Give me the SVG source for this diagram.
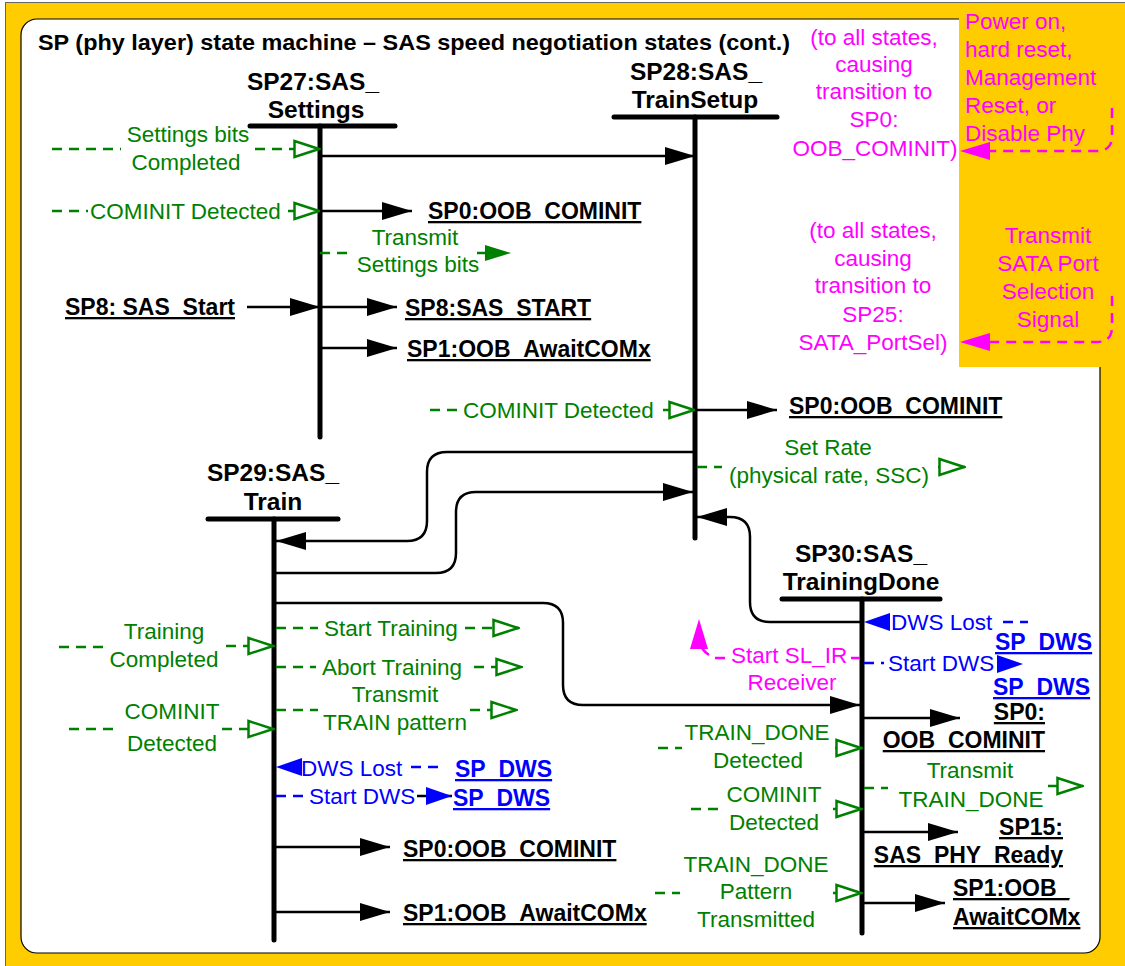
<svg xmlns="http://www.w3.org/2000/svg" width="1125" height="966" viewBox="0 0 1125 966">
<style>
text{font-family:"Liberation Sans",Arial,sans-serif}
.t{font-size:22px;font-weight:bold;fill:#000}
.n{font-size:24.5px;font-weight:bold;fill:#000;text-anchor:middle}
.l{font-size:23px;font-weight:bold;fill:#000;text-decoration:underline double;text-underline-offset:3px}
.lb{font-size:23px;font-weight:bold;fill:#0000FF;text-decoration:underline double;text-underline-offset:3px}
.g{font-size:22.5px;fill:#008000}
.bt{font-size:22.5px;fill:#0000FF}
.mt{font-size:22.5px;fill:#FF00FF}
.c{text-anchor:middle}
.bar{stroke:#000;stroke-width:5;stroke-linecap:round;fill:none}
.k{stroke:#000;stroke-width:2.5;fill:none}
.gd{stroke:#008000;stroke-width:2.5;stroke-dasharray:10 7;fill:none}
.bd{stroke:#0000FF;stroke-width:2.5;stroke-dasharray:10 7;fill:none}
.md{stroke:#FF00FF;stroke-width:2.5;stroke-dasharray:10 7;fill:none}
</style>
<defs>
<marker id="ak" markerUnits="userSpaceOnUse" markerWidth="30" markerHeight="20" viewBox="0 0 30 20" refX="30" refY="10" orient="auto"><polygon points="0,1 30,10 0,19" fill="#000"/></marker>
<marker id="og" markerUnits="userSpaceOnUse" markerWidth="28" markerHeight="20" viewBox="0 0 28 20" refX="27" refY="10" orient="auto"><polygon points="1.5,2 26,10 1.5,18" fill="#fff" stroke="#008000" stroke-width="2.5"/></marker>
<marker id="fg" markerUnits="userSpaceOnUse" markerWidth="26" markerHeight="18" viewBox="0 0 26 18" refX="26" refY="9" orient="auto"><polygon points="0,1 26,9 0,17" fill="#008000"/></marker>
<marker id="fb" markerUnits="userSpaceOnUse" markerWidth="26" markerHeight="20" viewBox="0 0 26 20" refX="26" refY="10" orient="auto"><polygon points="0,1 26,10 0,19" fill="#0000FF"/></marker>
<marker id="fm" markerUnits="userSpaceOnUse" markerWidth="30" markerHeight="20" viewBox="0 0 30 20" refX="30" refY="10" orient="auto"><polygon points="0,1 30,10 0,19" fill="#FF00FF"/></marker>
</defs>
<g id="frame">
<rect x="5.5" y="2.5" width="1130" height="975" fill="#FFCC00" stroke="#666" stroke-width="1"/>
<rect x="21" y="19" width="1079" height="934" rx="16" fill="#fff" stroke="#000" stroke-width="1.2"/>
<rect x="959" y="15" width="170" height="352" fill="#FFCC00"/>
<text class="t" x="38" y="50" textLength="752" lengthAdjust="spacingAndGlyphs">SP (phy layer) state machine – SAS speed negotiation states (cont.)</text>
</g>
<g id="global-notes">
<text class="mt c" x="874" y="45">(to all states,</text>
<text class="mt c" x="874" y="72">causing</text>
<text class="mt c" x="874" y="99">transition to</text>
<text class="mt c" x="874" y="127">SP0:</text>
<text class="mt c" x="875" y="156">OOB_COMINIT)</text>
<text class="mt" x="965" y="29">Power on,</text>
<text class="mt" x="965" y="57">hard reset,</text>
<text class="mt" x="965" y="85">Management</text>
<text class="mt" x="965" y="113">Reset, or</text>
<text class="mt" x="965" y="141">Disable Phy</text>
<text class="mt c" x="873" y="238">(to all states,</text>
<text class="mt c" x="873" y="266">causing</text>
<text class="mt c" x="873" y="293">transition to</text>
<text class="mt c" x="873" y="322">SP25:</text>
<text class="mt c" x="873" y="350">SATA_PortSel)</text>
<text class="mt c" x="1048" y="243">Transmit</text>
<text class="mt c" x="1048" y="271">SATA Port</text>
<text class="mt c" x="1048" y="299">Selection</text>
<text class="mt c" x="1048" y="327">Signal</text>
</g>
<g id="SP27">
<text class="n" x="313" y="90">SP27:SAS_</text>
<text class="n" x="316" y="118">Settings</text>
<line class="bar" x1="250" y1="126" x2="395" y2="126"/>
<line class="bar" x1="320" y1="126" x2="320" y2="437"/>
</g>
<g id="SP28">
<text class="n" x="696" y="80">SP28:SAS_</text>
<text class="n" x="695" y="108">TrainSetup</text>
<line class="bar" x1="614" y1="117" x2="777" y2="117"/>
<line class="bar" x1="695" y1="117" x2="695" y2="538"/>
</g>
<g id="SP29">
<text class="n" x="273" y="481">SP29:SAS_</text>
<text class="n" x="273" y="510">Train</text>
<line class="bar" x1="208" y1="519" x2="338" y2="519"/>
<line class="bar" x1="274" y1="519" x2="274" y2="940"/>
</g>
<g id="SP30">
<text class="n" x="861" y="562">SP30:SAS_</text>
<text class="n" x="861" y="590">TrainingDone</text>
<line class="bar" x1="782" y1="599" x2="940" y2="599"/>
<line class="bar" x1="862" y1="599" x2="862" y2="933"/>
</g>
<g id="connectors">
<path class="md" d="M1112,108 V136 Q1112,151 1097,151 H988"/>
<path d="M990,151 H960" stroke="none" fill="none" marker-end="url(#fm)"/>
<path class="md" d="M1112,296 V327 Q1112,342 1097,342 H988"/>
<path d="M990,342 H960" stroke="none" fill="none" marker-end="url(#fm)"/>
<text class="g c" x="188" y="142">Settings bits</text>
<text class="g c" x="186" y="170">Completed</text>
<path class="gd" d="M52,149 H121"/>
<path class="gd" d="M255,149 H320" marker-end="url(#og)"/>
<path class="k" d="M320,156 H695" marker-end="url(#ak)"/>
<path class="gd" d="M52,211 H88"/>
<text class="g" x="90" y="219">COMINIT Detected</text>
<path class="gd" d="M288,211 H320" marker-end="url(#og)"/>
<path class="k" d="M320,211 H412" marker-end="url(#ak)"/>
<text class="l" x="428" y="219">SP0:OOB_COMINIT</text>
<text class="g c" x="415" y="245">Transmit</text>
<text class="g c" x="418" y="272">Settings bits</text>
<path class="gd" d="M320,253 H350"/>
<path class="gd" d="M477,253 H511" marker-end="url(#fg)"/>
<text class="l" x="65" y="315">SP8: SAS_Start</text>
<path class="k" d="M247,307 H320" marker-end="url(#ak)"/>
<path class="k" d="M320,307 H397" marker-end="url(#ak)"/>
<text class="l" x="405" y="316">SP8:SAS_START</text>
<path class="k" d="M320,348 H397" marker-end="url(#ak)"/>
<text class="l" x="407" y="357">SP1:OOB_AwaitCOMx</text>
<path class="gd" d="M430,410 H458"/>
<text class="g" x="463" y="418">COMINIT Detected</text>
<path class="gd" d="M663,410 H695" marker-end="url(#og)"/>
<path class="k" d="M695,410 H777" marker-end="url(#ak)"/>
<text class="l" x="789" y="414">SP0:OOB_COMINIT</text>
<text class="g c" x="828" y="455">Set Rate</text>
<text class="g c" x="829" y="483">(physical rate, SSC)</text>
<path class="gd" d="M697,467 H722"/>
<path class="gd" d="M938,467 H965" marker-end="url(#og)"/>
<path class="k" d="M695,452 H447 Q427,452 427,472 V521 Q427,541 407,541 H276" marker-end="url(#ak)"/>
<path class="k" d="M274,573 H436 Q456,573 456,553 V512 Q456,492 476,492 H693" marker-end="url(#ak)"/>
<path class="k" d="M862,622 H770 Q750,622 750,602 V537 Q750,517 730,517 H697" marker-end="url(#ak)"/>
<path class="k" d="M274,603 H543 Q563,603 563,623 V685 Q563,705 583,705 H860" marker-end="url(#ak)"/>
<text class="g c" x="164" y="639">Training</text>
<text class="g c" x="164" y="667">Completed</text>
<path class="gd" d="M59,647 H105"/>
<path class="gd" d="M226,646 H274" marker-end="url(#og)"/>
<path class="gd" d="M276,628 H318"/>
<text class="g" x="324" y="636">Start Training</text>
<path class="gd" d="M465,628 H519" marker-end="url(#og)"/>
<path class="gd" d="M276,667 H316"/>
<text class="g" x="322" y="675">Abort Training</text>
<path class="gd" d="M474,667 H522" marker-end="url(#og)"/>
<text class="g c" x="395" y="702">Transmit</text>
<text class="g c" x="395" y="730">TRAIN pattern</text>
<path class="gd" d="M276,710 H318"/>
<path class="gd" d="M470,710 H517" marker-end="url(#og)"/>
<text class="g c" x="172" y="719">COMINIT</text>
<text class="g c" x="172" y="751">Detected</text>
<path class="gd" d="M69,729 H120"/>
<path class="gd" d="M222,729 H274" marker-end="url(#og)"/>
<path d="M300,767 H276" stroke="none" fill="none" marker-end="url(#fb)"/>
<text class="bt" x="301" y="776">DWS Lost</text>
<path class="bd" d="M411,767 H440"/>
<text class="lb" x="455" y="777">SP_DWS</text>
<path class="bd" d="M276,796 H306"/>
<text class="bt" x="309" y="804">Start DWS</text>
<path class="k" d="M417,796 H452" stroke="#0000FF" marker-end="url(#fb)"/>
<text class="lb" x="453" y="806">SP_DWS</text>
<path class="k" d="M274,847 H390" marker-end="url(#ak)"/>
<text class="l" x="403" y="857">SP0:OOB_COMINIT</text>
<path class="k" d="M274,912 H390" marker-end="url(#ak)"/>
<text class="l" x="403" y="921">SP1:OOB_AwaitCOMx</text>
<path d="M889,622 H864" stroke="none" fill="none" marker-end="url(#fb)"/>
<text class="bt" x="891" y="630">DWS Lost</text>
<path class="bd" d="M1003,622 H1028"/>
<text class="lb" x="995" y="650">SP_DWS</text>
<path class="md" d="M860,658 H851"/>
<text class="mt" x="731" y="663">Start SL_IR</text>
<path class="md" d="M725,658 H715 M709,655 Q703,651 700,645"/>
<path d="M699,646 V619" stroke="none" fill="none" marker-end="url(#fm)"/>
<text class="mt c" x="792" y="690">Receiver</text>
<path class="bd" d="M864,663 H884"/>
<text class="bt" x="888" y="671">Start DWS</text>
<path d="M996,664 H1023" stroke="none" fill="none" marker-end="url(#fb)"/>
<text class="lb" x="993" y="695">SP_DWS</text>
<path class="k" d="M862,718 H960" marker-end="url(#ak)"/>
<text class="l" x="1045" y="720" text-anchor="end">SP0:</text>
<text class="l" x="1045" y="748" text-anchor="end">OOB_COMINIT</text>
<text class="g c" x="757" y="740">TRAIN_DONE</text>
<text class="g c" x="758" y="768">Detected</text>
<path class="gd" d="M658,748 H682"/>
<path class="gd" d="M835,748 H862" marker-end="url(#og)"/>
<text class="g c" x="970" y="778">Transmit</text>
<text class="g c" x="971" y="807">TRAIN_DONE</text>
<path class="gd" d="M864,788 H888"/>
<path class="gd" d="M1048,786 H1083" marker-end="url(#og)"/>
<text class="g c" x="774" y="802">COMINIT</text>
<text class="g c" x="774" y="830">Detected</text>
<path class="gd" d="M691,809 H718"/>
<path class="gd" d="M833,809 H862" marker-end="url(#og)"/>
<path class="k" d="M862,832 H958" marker-end="url(#ak)"/>
<text class="l" x="1063" y="835" text-anchor="end">SP15:</text>
<text class="l" x="1063" y="863" text-anchor="end">SAS_PHY_Ready</text>
<text class="g c" x="756" y="872">TRAIN_DONE</text>
<text class="g c" x="756" y="899">Pattern</text>
<text class="g c" x="756" y="927">Transmitted</text>
<path class="gd" d="M655,893 H680"/>
<path class="gd" d="M833,893 H862" marker-end="url(#og)"/>
<path class="k" d="M862,903 H945" marker-end="url(#ak)"/>
<text class="l" x="953" y="896">SP1:OOB_</text>
<text class="l" x="953" y="925">AwaitCOMx</text>
</g>
</svg>
